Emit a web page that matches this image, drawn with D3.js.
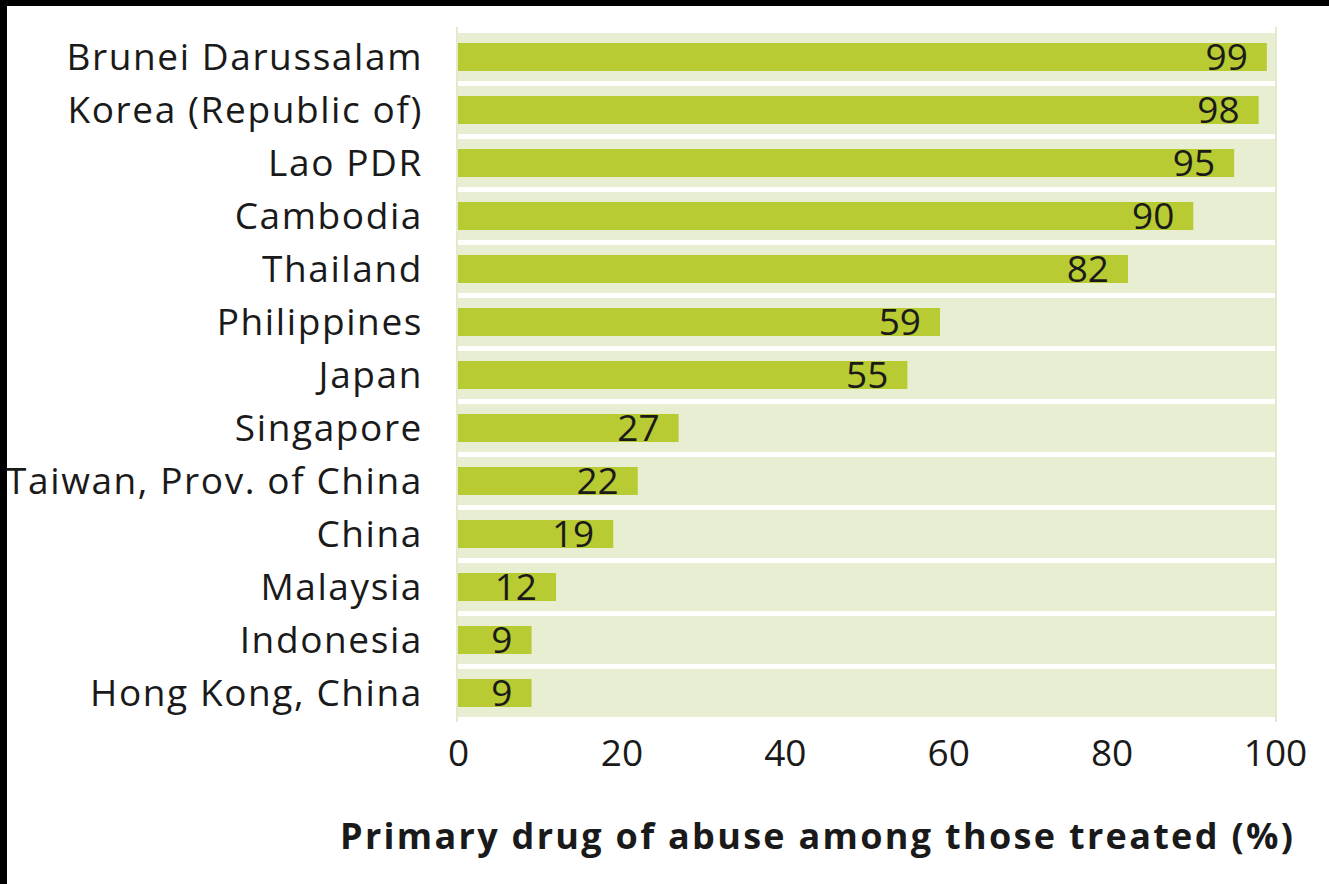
<!DOCTYPE html>
<html>
<head>
<meta charset="utf-8">
<script src="https://cdn.jsdelivr.net/npm/d3@7"></script>
<style>
  html, body { margin: 0; padding: 0; background: #fff; }
  svg { display: block; }
  text { font-family: "Open Sans", "DejaVu Sans", sans-serif; fill: #1a1a1a; }
</style>
</head>
<body>
<script>
const countries = ["Brunei Darussalam", "Korea (Republic of)", "Lao PDR", "Cambodia", "Thailand",
  "Philippines", "Japan", "Singapore", "Taiwan, Prov. of China", "China", "Malaysia",
  "Indonesia", "Hong Kong, China"];
const shares = [99, 98, 95, 90, 82, 59, 55, 27, 22, 19, 12, 9, 9];
const xTicks = [0, 20, 40, 60, 80, 100];
const xTitle = "Primary drug of abuse among those treated (%)";

const width = 1329;
const height = 884;

const svg = d3.select("body")
  .append("svg")
  .attr("width", width)
  .attr("height", height);

// black frame on top and left edge, as in the scan
svg.append("rect").attr("x", 0).attr("y", 0).attr("width", width).attr("height", 6).attr("fill", "#000");
svg.append("rect").attr("x", 0).attr("y", 0).attr("width", 7).attr("height", height).attr("fill", "#000");

const x = d3.scaleLinear()
  .domain([0, 100])
  .range([458, 1275]);

const y = d3.scaleBand()
  .domain(countries)
  .range([30.5, 719.5])
  .padding(0);

const rows = countries.map((c, i) => ({name: c, value: shares[i]}));

// background bands
svg.selectAll(".band")
  .data(rows)
  .enter()
  .append("rect")
  .attr("class", "band")
  .attr("x", x(0))
  .attr("y", d => y(d.name) + 2.5)
  .attr("width", x(100) - x(0))
  .attr("height", 48)
  .attr("fill", "#e8eed1");

// vertical edge lines
svg.selectAll(".edge")
  .data([0, 100])
  .enter()
  .append("line")
  .attr("class", "edge")
  .attr("x1", d => x(d) + (d === 0 ? -1 : 1))
  .attr("x2", d => x(d) + (d === 0 ? -1 : 1))
  .attr("y1", 27)
  .attr("y2", 722)
  .attr("stroke", "#e3eacb")
  .attr("stroke-width", 2);

// bars
svg.selectAll(".bar")
  .data(rows)
  .enter()
  .append("rect")
  .attr("class", "bar")
  .attr("x", x(0))
  .attr("y", d => y(d.name) + y.bandwidth() / 2 - 14)
  .attr("width", d => x(d.value) - x(0))
  .attr("height", 28)
  .attr("fill", "#b8cb33");

// value labels
svg.selectAll(".val")
  .data(rows)
  .enter()
  .append("text")
  .attr("class", "val")
  .attr("x", d => x(d.value) - 19)
  .attr("y", d => y(d.name) + y.bandwidth() / 2 + 13)
  .attr("text-anchor", "end")
  .attr("font-size", 37)
  .text(d => d.value);

// category labels
svg.selectAll(".cat")
  .data(rows)
  .enter()
  .append("text")
  .attr("class", "cat")
  .attr("x", 423)
  .attr("y", d => y(d.name) + y.bandwidth() / 2 + 13)
  .attr("text-anchor", "end")
  .attr("font-size", 37)
  .attr("letter-spacing", "1.6px")
  .text(d => d.name);

// x axis
const xAxis = svg.append("g")
  .attr("transform", "translate(0,722)")
  .call(d3.axisBottom(x).tickValues(xTicks).tickSize(0).tickPadding(0));
xAxis.select(".domain").remove();
xAxis.selectAll("text")
  .attr("font-size", 37)
  .attr("font-family", null)
  .attr("dy", null)
  .attr("y", 44)
  .attr("fill", "#1a1a1a");

svg.append("text")
  .attr("x", 340)
  .attr("y", 849)
  .attr("font-size", 36)
  .attr("font-weight", "bold")
  .attr("letter-spacing", "2.3px")
  .text(xTitle);
</script>
</body>
</html>
